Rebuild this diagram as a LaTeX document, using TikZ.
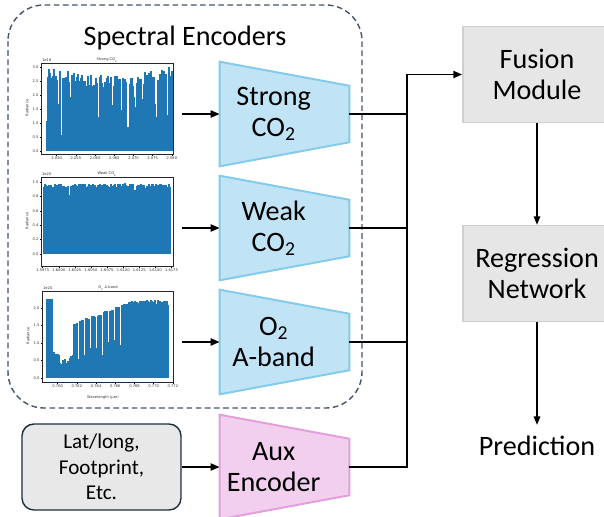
\documentclass[tikz,border=0pt]{standalone}
\usepackage{fontspec}
\setmainfont{Carlito}
\newfontfamily\plotfont{DejaVu Sans}
\usetikzlibrary{arrows.meta, positioning, calc, backgrounds}
\definecolor{slateline}{HTML}{44546A}
\definecolor{navyline}{HTML}{1F2D3D}
\definecolor{encfill}{HTML}{C0E4F5}
\definecolor{encline}{HTML}{83CBEB}
\definecolor{auxfill}{HTML}{F2CFEE}
\definecolor{auxline}{HTML}{E49EDD}
\definecolor{boxgray}{HTML}{E6E6E6}
\definecolor{boxline}{HTML}{D0D0D0}
\definecolor{infogray}{HTML}{E8E8E8}
\definecolor{specblue}{HTML}{1F77B4}
\tikzset{
    bigtext/.style={font=\fontsize{20}{22}\selectfont},
    encoder/.style={rectangle, minimum width=3.225cm, minimum height=2.6cm, inner sep=0pt,
        label={[bigtext, align=center, xshift=-0.27cm]center:#1}},
    trap/.style 2 args={fill=#1, draw=#2, line width=1.4pt, line join=miter},
    stage/.style={rectangle, draw=boxline, fill=boxgray, line width=1pt, minimum width=3.7cm, minimum height=2.4cm, align=center, bigtext},
    infobox/.style={rectangle, rounded corners=0.3cm, draw=navyline, fill=infogray, line width=1pt, minimum width=3.975cm, minimum height=2.15cm, align=center, font=\fontsize{15}{18}\selectfont},
    plotframe/.style={rectangle, draw=black!85, line width=0.6pt, inner sep=0pt, anchor=north west},
    spec/.style={specblue, line width=0.75pt},
    tick/.style={font=\plotfont\fontsize{2.6}{3}\selectfont, inner sep=0.6pt, black!80},
    line/.style={draw, line width=1.4pt},
    arrow/.style={line, -{Triangle[length=6.4pt, width=5pt]}},
    thinarrow/.style={draw, line width=1pt, -{Triangle[length=6pt, width=4.6pt]}}
}

\begin{document}
\begin{tikzpicture}[x=0.025cm, y=-0.025cm]
    \useasboundingbox (0,0) rectangle (604,516);
    \pgfmathsetseed{42}

    % Spectral encoder group
    \draw[slateline, line width=1pt, dash pattern=on 4pt off 2.5pt, rounded corners=0.9cm] (8,5) rectangle (362,408);
    \node[bigtext] (group) at (185,38) {Spectral Encoders};

    % Strong CO2 spectrum
    \begin{scope}[shift={(41,63)}]
        \foreach \i in {6,...,131}{
            \pgfmathsetmacro\h{rnd<0.3 ? 0.5+1.7*rnd : 2.25+0.45*rnd+0.35*((\i-68)/63)^2}
            \draw[spec] (\i,88) -- (\i,88-28*\h);
        }
        \foreach \v [count=\k from 0] in {0.0,0.5,1.0,1.5,2.0,2.5,3.0}
            \draw (0,88-14*\k) -- ++(-1.5,0) node[tick, left] {\v};
        \foreach \v [count=\k from 0] in {2.050,2.055,2.060,2.065,2.070,2.075,2.080}
            \draw (15.7+19.2*\k,91) -- ++(0,1.5) node[tick, below] {\v};
        \node[tick] at (66,-3) {Strong CO\textsubscript{2}};
        \node[tick, anchor=south west] at (0,-0.5) {1e18};
        \node[tick, rotate=90] at (-14,45) {Radiance};
        \node[plotframe, minimum width=3.3cm, minimum height=2.275cm] (p1) at (0,0) {};
    \end{scope}

    % Weak CO2 spectrum
    \begin{scope}[shift={(41,177)}]
        \foreach \i in {3,...,129}{
            \pgfmathsetmacro\h{rnd<0.12 ? 0.78+0.14*rnd : 0.93+0.05*rnd}
            \draw[spec] (\i,77) -- (\i,77-72*\h);
        }
        \foreach \v [count=\k from 0] in {0.0,0.2,0.4,0.6,0.8,1.0}
            \draw (0,77-14.4*\k) -- ++(-1.5,0) node[tick, left] {\v};
        \foreach \v [count=\k from 0] in {1.5975,1.6000,1.6025,1.6050,1.6075,1.6100,1.6125,1.6150,1.6175}
            \draw (1.7+16.1*\k,89) -- ++(0,1.5) node[tick, below] {\v};
        \node[tick] at (66,-3) {Weak CO\textsubscript{2}};
        \node[tick, anchor=south west] at (0,-0.5) {1e20};
        \node[tick, rotate=90] at (-14,44) {Radiance};
        \node[plotframe, minimum width=3.3cm, minimum height=2.225cm] (p2) at (0,0) {};
    \end{scope}

    % O2 A-band spectrum
    \begin{scope}[shift={(42,291)}]
        \foreach \i in {5,...,126}{
            \pgfmathsetmacro\xf{(\i-5)/121}
            \pgfmathsetmacro\h{\xf<0.045 ? 2.25 : (\xf<0.2 ? 0.2+5*abs(\xf-0.14)+0.3*rnd : min(2.22,1.55+1.3*(\xf-0.2)) - (mod(\i,6)<2 ? (\xf<0.62 ? 0.9+0.4*rnd : 0.2*rnd) : 0.06*rnd))}
            \draw[spec] (\i,87) -- (\i,87-35*\h);
        }
        \foreach \v [count=\k from 0] in {0.0,0.5,1.0,1.5,2.0}
            \draw (0,87-17.5*\k) -- ++(-1.5,0) node[tick, left] {\v};
        \foreach \v [count=\k from 0] in {0.760,0.762,0.764,0.766,0.768,0.770,0.772}
            \draw (15.7+19.2*\k,91) -- ++(0,1.5) node[tick, below] {\v};
        \node[tick] at (66,-3) {O\textsubscript{2} A-band};
        \node[tick, anchor=south west] at (0,-0.5) {1e20};
        \node[tick, rotate=90] at (-14,45) {Radiance};
        \node[tick] at (61,106) {Wavelength (µm)};
        \node[plotframe, minimum width=3.275cm, minimum height=2.275cm] (p3) at (0,0) {};
    \end{scope}

    % Encoders
    \node[encoder={Strong\\CO\textsubscript{2}}] (strong) at (284.5,114) {};
    \node[encoder={Weak\\CO\textsubscript{2}}] (weak) at (284.5,228) {};
    \node[encoder={O\textsubscript{2}\\A-band}] (oband) at (284.5,342) {};
    \node[encoder={Aux\\Encoder}] (aux) at (284.5,467) {};
    \begin{scope}[on background layer]
        \foreach \n/\f/\c in {strong/encfill/encline, weak/encfill/encline, oband/encfill/encline, aux/auxfill/auxline}
            \draw[trap={\f}{\c}] (\n.north west) -- ([yshift=-0.6cm]\n.north east) -- ([yshift=0.6cm]\n.south east) -- (\n.south west) -- cycle;
    \end{scope}

    % Auxiliary inputs
    \node[infobox] (info) at (101.5,467) {Lat/long,\\Footprint,\\Etc.};

    % Fusion and regression
    \node[stage] (fusion) at (537,74.5) {Fusion\\Module};
    \node[stage] (regress) at (537,273.5) {Regression\\Network};
    \node[bigtext, inner ysep=7.8pt] (pred) at (537,446) {Prediction};

    % Connectors
    \foreach \p/\n in {p1/strong, p2/weak, p3/oband}
        \draw[arrow, shorten <=0.2cm] (\p.east |- \n) -- (\n.west);
    \draw[arrow] (info.east) -- (aux.west);
    \coordinate (bus) at (407,74.5);
    \foreach \n in {strong, weak, oband}
        \draw[line] (\n.east) -- (\n.east -| bus);
    \draw[arrow] (aux.east) -| (bus) -- (fusion.west);
    \draw[thinarrow] (fusion) -- (regress);
    \draw[thinarrow] (regress) -- (pred);
\end{tikzpicture}
\end{document}
